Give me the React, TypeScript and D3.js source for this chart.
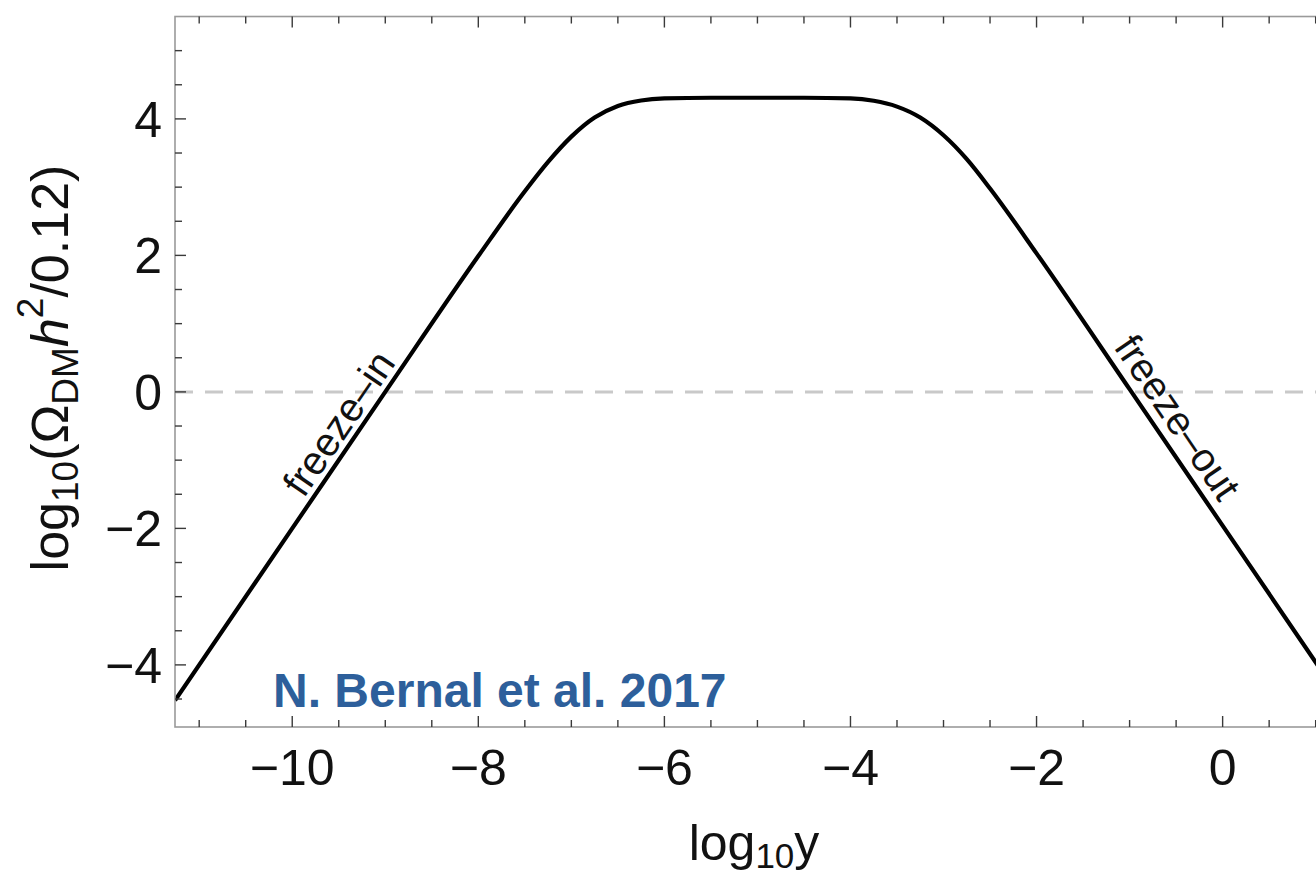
import React from "react";
import * as d3 from "d3";

// Curve points (log10 y, log10(Omega h^2/0.12))
const curveX = [-11.26, -10, -9, -8, -7.5, -7.25, -7, -6.75, -6.5, -6.25, -6, -5.5, -5, -4.5, -4, -3.75, -3.5, -3.25, -3, -2.75, -2.5, -2, -1, 0, 1.12];
const curveY = [-4.52, -2, 0, 1.99, 2.94, 3.37, 3.74, 4.02, 4.19, 4.27, 4.3, 4.31, 4.31, 4.31, 4.3, 4.265, 4.18, 4.02, 3.76, 3.41, 2.98, 2.03, 0.04, -1.96, -4.2];

const xMajorTicks = [-10, -8, -6, -4, -2, 0];
const yMajorTicks = [-4, -2, 0, 2, 4];
const xDomain = [-11.26, 1.12];
const yDomain = [-4.91, 5.5];
const refLevel = 0;

const W = 1316;
const H = 875;
const FONT = "'Liberation Sans', Arial, Helvetica, sans-serif";

export default function App() {
  const left = 175;
  const bottom = 727;
  const pxPerX = 93.04;
  const pxPerY = 68.25;
  const x = d3
    .scaleLinear()
    .domain(xDomain)
    .range([left, left + (xDomain[1] - xDomain[0]) * pxPerX]);
  const y = d3
    .scaleLinear()
    .domain(yDomain)
    .range([bottom, bottom - (yDomain[1] - yDomain[0]) * pxPerY]);

  const [x0, x1] = x.range();
  const [y0, y1] = y.range(); // y0 bottom, y1 top

  const pts: [number, number][] = curveX.map((v, i) => [v, curveY[i]]);
  const line = d3
    .line<[number, number]>()
    .x((d) => x(d[0]))
    .y((d) => y(d[1]))
    .curve(d3.curveMonotoneX);

  const xMinor = d3.range(Math.ceil(xDomain[0] * 2) / 2, xDomain[1] + 1e-9, 0.5);
  const yMinor = d3.range(Math.ceil(yDomain[0] * 2) / 2, yDomain[1] - 1e-9, 0.5);
  const isMajor = (v: number) => Math.abs(v / 2 - Math.round(v / 2)) < 1e-9;
  const MAJ = 11;
  const MIN = 7;

  // slope-2 line angle in screen coordinates
  const ang = (Math.atan2(y(0) - y(2), x(1) - x(0)) * 180) / Math.PI;
  const angR = (ang * Math.PI) / 180;
  // freeze-in crossing at -9, freeze-out crossing at -0.98
  const fiX = x(-9), fiY = y(0);
  const foX = x(-0.98), foY = y(0);
  const dirUp = [Math.cos(angR), -Math.sin(angR)];
  const dirDown = [Math.cos(angR), Math.sin(angR)];
  const fiAlong = -52, fiPerp = 7;
  const fiPos = [
    fiX + dirUp[0] * fiAlong + -Math.sin(angR) * fiPerp,
    fiY + dirUp[1] * fiAlong + -Math.cos(angR) * fiPerp,
  ];
  const foAlong = 47, foPerp = 10;
  const foPos = [
    foX + dirDown[0] * foAlong + Math.sin(angR) * foPerp,
    foY + dirDown[1] * foAlong - Math.cos(angR) * foPerp,
  ];

  return (
    <svg
      width={W}
      height={H}
      style={{ position: "absolute", left: 0, top: 0, background: "#fff" }}
      fontFamily={FONT}
    >
      <defs>
        <clipPath id="plot">
          <rect x={x0} y={y1} width={x1 - x0} height={y0 - y1} />
        </clipPath>
      </defs>
      <rect x={0} y={0} width={W} height={H} fill="#fff" />

      {/* reference dashed line */}
      <line
        x1={x0}
        x2={x1}
        y1={y(refLevel)}
        y2={y(refLevel)}
        stroke="#c9c9c9"
        strokeWidth={3}
        strokeDasharray="18 12"
      />

      {/* curve */}
      <path
        d={line(pts) || ""}
        fill="none"
        stroke="#000"
        strokeWidth={4.2}
        clipPath="url(#plot)"
      />

      {/* frame */}
      <rect
        x={x0}
        y={y1}
        width={x1 - x0}
        height={y0 - y1}
        fill="none"
        stroke="#9a9a9a"
        strokeWidth={1.6}
      />

      {/* x ticks bottom and top */}
      {xMinor.map((v) => {
        const len = isMajor(v) ? MAJ : MIN;
        return (
          <g key={"xt" + v} stroke="#3a3a3a" strokeWidth={1.4}>
            <line x1={x(v)} x2={x(v)} y1={y0} y2={y0 - len} />
            <line x1={x(v)} x2={x(v)} y1={y1} y2={y1 + len} />
          </g>
        );
      })}
      {/* y ticks left */}
      {yMinor.map((v) => {
        const len = isMajor(v) ? MAJ : MIN;
        return (
          <line
            key={"yt" + v}
            x1={x0}
            x2={x0 + len}
            y1={y(v)}
            y2={y(v)}
            stroke="#3a3a3a"
            strokeWidth={1.4}
          />
        );
      })}

      {/* tick labels */}
      {xMajorTicks.map((v) => (
        <text
          key={"xl" + v}
          x={x(v)}
          y={785}
          textAnchor="middle"
          fontSize={50}
          fill="#111"
        >
          {v < 0 ? "\u2212" + Math.abs(v) : String(v)}
        </text>
      ))}
      {yMajorTicks.map((v) => (
        <text
          key={"yl" + v}
          x={162}
          y={y(v) + 18}
          textAnchor="end"
          fontSize={50}
          fill="#111"
        >
          {v < 0 ? "\u2212" + Math.abs(v) : String(v)}
        </text>
      ))}

      {/* axis labels */}
      <text x={754} y={860} textAnchor="middle" fontSize={50} fill="#111">
        <tspan>log</tspan>
        <tspan fontSize={35} dy={8}>10</tspan>
        <tspan dy={-8}>y</tspan>
      </text>
      <text
        transform={`translate(68,368) rotate(-90)`}
        textAnchor="middle"
        fontSize={52}
        fill="#111"
      >
        <tspan>log</tspan>
        <tspan fontSize={37} dy={10}>10</tspan>
        <tspan dy={-10}>(Ω</tspan>
        <tspan fontSize={37} dy={10}>DM</tspan>
        <tspan dy={-10} fontStyle="italic">h</tspan>
        <tspan fontSize={37} dy={-25}>2</tspan>
        <tspan dy={25}>/0.12)</tspan>
      </text>

      {/* annotations */}
      <text
        transform={`translate(${fiPos[0]},${fiPos[1]}) rotate(${-ang})`}
        textAnchor="middle"
        fontSize={40}
        fill="#111"
      >
        freeze–in
      </text>
      <text
        transform={`translate(${foPos[0]},${foPos[1]}) rotate(${ang})`}
        textAnchor="middle"
        fontSize={40}
        fill="#111"
      >
        freeze–out
      </text>
      <text x={273} y={707} fontSize={48} fontWeight="bold" fill="#2d5f9b">
        N. Bernal et al. 2017
      </text>
    </svg>
  );
}
